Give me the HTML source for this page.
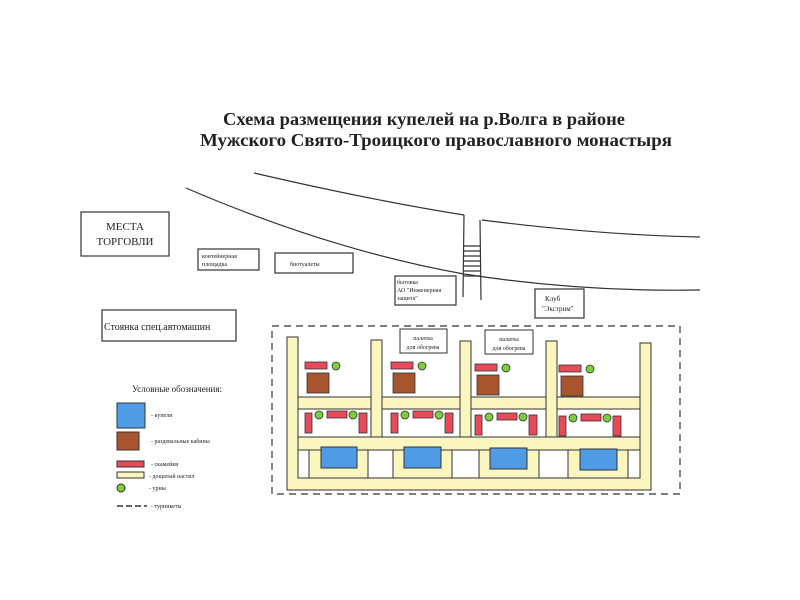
<!DOCTYPE html>
<html><head><meta charset="utf-8"><style>
html,body{margin:0;padding:0;background:#fff;}
svg{display:block;}
text{font-family:"Liberation Serif","Noto Serif CJK SC",serif;fill:#222;}
</style></head><body>
<svg width="800" height="600" viewBox="0 0 800 600" xmlns="http://www.w3.org/2000/svg">
<rect width="800" height="600" fill="#fff"/>
<text x="424" y="125" font-size="18" font-weight="bold" text-anchor="middle" textLength="402" lengthAdjust="spacingAndGlyphs">Схема размещения купелей на р.Волга в районе</text>
<text x="436" y="146" font-size="18" font-weight="bold" text-anchor="middle" textLength="472" lengthAdjust="spacingAndGlyphs">Мужского Свято-Троицкого православного монастыря</text>

<g fill="none" stroke="#333" stroke-width="1.2">
<path d="M186,188 Q330,250 464,274 Q580,292 700,290"/>
<path d="M254,173 Q370,200 464,215"/>
<path d="M482,220 Q600,235 700,237"/>
<line x1="464" y1="215" x2="463" y2="297"/>
<line x1="480" y1="220" x2="481" y2="300"/>
<path d="M464,246H480M464,251H480M464,256H480M464,261H480M464,266H480M464,271H480M464,276H480"/>
</g>

<g fill="#fff" stroke="#333" stroke-width="1.2">
<rect x="81" y="212" width="88" height="44"/>
<rect x="198" y="249" width="61" height="21"/>
<rect x="275" y="253" width="78" height="20"/>
<rect x="102" y="310" width="134" height="31"/>
<rect x="395" y="276" width="61" height="29"/>
<rect x="535" y="289" width="49" height="29"/>
</g>
<text x="125" y="230" font-size="11" text-anchor="middle">МЕСТА</text>
<text x="125" y="245" font-size="11" text-anchor="middle">ТОРГОВЛИ</text>
<text x="202" y="258" font-size="6">контейнерная</text>
<text x="202" y="266" font-size="6">площадка</text>
<text x="290" y="266" font-size="6">биотуалеты</text>
<text x="104" y="330" font-size="10">Стоянка спец.автомашин</text>
<text x="397" y="284" font-size="6">бытовка</text>
<text x="397" y="292" font-size="6">АО "Инженерная</text>
<text x="397" y="300" font-size="6">защита"</text>
<text x="545" y="301" font-size="7">Клуб</text>
<text x="542" y="311" font-size="7">"Экстрим"</text>

<!-- dashed boundary -->
<rect x="272" y="326" width="408" height="168" fill="none" stroke="#333" stroke-width="1.2" stroke-dasharray="7,5"/>

<!-- yellow frame -->
<g fill="#fbf5c0" stroke="#333" stroke-width="1">
<path d="M287,337H298V478H640V343H651V490H287Z"/>
<rect x="298" y="397" width="342" height="12"/>
<rect x="298" y="437" width="342" height="13"/>
<rect x="371" y="340" width="11" height="97"/>
<rect x="460" y="341" width="11" height="96"/>
<rect x="546" y="341" width="11" height="96"/>
<rect x="309" y="450" width="59" height="28"/>
<rect x="393" y="450" width="59" height="28"/>
<rect x="479" y="450" width="60" height="28"/>
<rect x="568" y="450" width="60" height="28"/>
</g>
<g fill="#fff" stroke="#333" stroke-width="1">
<rect x="298" y="450" width="11" height="28"/>
<rect x="368" y="450" width="25" height="28"/>
<rect x="452" y="450" width="27" height="28"/>
<rect x="539" y="450" width="29" height="28"/>
<rect x="628" y="450" width="12" height="28"/>
</g>
<g fill="#4f9be6" stroke="#333" stroke-width="1">
<rect x="321" y="447" width="36" height="21"/>
<rect x="404" y="447" width="37" height="21"/>
<rect x="490" y="448" width="37" height="21"/>
<rect x="580" y="449" width="37" height="21"/>
</g>
<g fill="#fff" stroke="#333" stroke-width="1">
<rect x="400" y="329" width="47" height="24"/>
<rect x="485" y="330" width="48" height="24"/>
</g>
<text x="423" y="340" font-size="6" text-anchor="middle">палатка</text>
<text x="423" y="349" font-size="6" text-anchor="middle">для обогрева</text>
<text x="509" y="341" font-size="6" text-anchor="middle">палатка</text>
<text x="509" y="350" font-size="6" text-anchor="middle">для обогрева</text>

<defs>
<g id="col">
<rect x="0" y="0" width="22" height="7" fill="#e84a5a" stroke="#333" stroke-width="0.8"/>
<circle cx="31" cy="4" r="4" fill="#7ccd3a" stroke="#333" stroke-width="0.8"/>
<rect x="2" y="11" width="22" height="20" fill="#a8542f" stroke="#333" stroke-width="0.8"/>
<rect x="0" y="51" width="7" height="20" fill="#e84a5a" stroke="#333" stroke-width="0.8"/>
<circle cx="14" cy="53" r="4" fill="#7ccd3a" stroke="#333" stroke-width="0.8"/>
<rect x="22" y="49" width="20" height="7" fill="#e84a5a" stroke="#333" stroke-width="0.8"/>
<circle cx="48" cy="53" r="4" fill="#7ccd3a" stroke="#333" stroke-width="0.8"/>
<rect x="54" y="51" width="8" height="20" fill="#e84a5a" stroke="#333" stroke-width="0.8"/>
</g>
</defs>
<use href="#col" x="305" y="362"/>
<use href="#col" x="391" y="362"/>
<use href="#col" x="475" y="364"/>
<use href="#col" x="559" y="365"/>

<!-- legend -->
<text x="177" y="392" font-size="9" text-anchor="middle">Условные обозначения:</text>
<rect x="117" y="403" width="28" height="25" fill="#4f9be6" stroke="#333"/>
<rect x="117" y="432" width="22" height="18" fill="#a8542f" stroke="#333"/>
<rect x="117" y="461" width="27" height="6" fill="#e84a5a" stroke="#333"/>
<rect x="117" y="472" width="27" height="6" fill="#fbf5c0" stroke="#333"/>
<circle cx="121" cy="488" r="4" fill="#7ccd3a" stroke="#333"/>
<line x1="117" y1="506" x2="147" y2="506" stroke="#333" stroke-width="1.5" stroke-dasharray="6,3"/>
<g font-size="6">
<text x="151" y="417">- купели</text>
<text x="151" y="443">- раздевальные кабины</text>
<text x="151" y="466">- скамейки</text>
<text x="149" y="478">- дощатый настил</text>
<text x="149" y="490">- урны</text>
<text x="151" y="508">- турникеты</text>
</g>
</svg>
</body></html>
